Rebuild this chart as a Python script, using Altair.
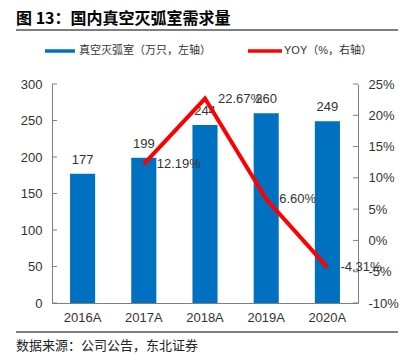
import altair as alt
import pandas as pd

years = ["2016A", "2017A", "2018A", "2019A", "2020A"]
demand = [177, 199, 244, 260, 249]
yoy = [None, 12.19, 22.67, 6.60, -4.31]
left_ticks = [0, 50, 100, 150, 200, 250, 300]
right_ticks = [-10, -5, 0, 5, 10, 15, 20, 25]

TITLE = "图 13：国内真空灭弧室需求量"
LEG_BAR = "真空灭弧室（万只，左轴）"
LEG_LINE = "YOY（%，右轴）"
SOURCE = "数据来源：公司公告，东北证券"

FONT = "Liberation Sans, Arial, Noto Sans CJK SC"
CJK = "Noto Sans CJK SC"
AXC = "#7f7f7f"
TXT = "#333333"

df = pd.DataFrame({"year": years, "demand": demand, "yoy": yoy})
df_line = df.dropna().copy()
df_line["label"] = [f"{v:.2f}%" for v in df_line["yoy"]]

LSCALE = alt.Scale(domain=[0, 300], nice=False)
RSCALE = alt.Scale(domain=[-10, 25], nice=False)

x = alt.X(
    "year:N", sort=years, title=None,
    scale=alt.Scale(paddingInner=0.59, paddingOuter=0.295),
    axis=alt.Axis(labelAngle=0, ticks=False, domainColor=AXC, labelPadding=8,
                  labelFontSize=13, labelColor=TXT, labelFont=FONT),
)

bars = alt.Chart(df).mark_bar(color="#0070C0").encode(
    x=x,
    y=alt.Y("demand:Q", scale=LSCALE,
            axis=alt.Axis(orient="left", values=left_ticks, title=None, ticks=False, grid=False,
                          domainColor=AXC, labelPadding=10, labelFontSize=13,
                          labelColor=TXT, labelFont=FONT)),
)
bar_text = alt.Chart(df).mark_text(baseline="bottom", dy=-7, fontSize=13, color=TXT, font=FONT).encode(
    x=x, y=alt.Y("demand:Q", scale=LSCALE, axis=None), text="demand:Q"
)
lt = alt.Chart(pd.DataFrame({"t": left_ticks})).mark_rule(color=AXC).encode(
    y=alt.Y("t:Q", scale=LSCALE, axis=None), x=alt.value(0), x2=alt.value(5)
)

line = alt.Chart(df_line).mark_line(color="#FF0000", strokeWidth=4).encode(
    x=x,
    y=alt.Y("yoy:Q", scale=RSCALE,
            axis=alt.Axis(orient="right", values=right_ticks, labelExpr="datum.value + '%'",
                          title=None, ticks=False, grid=False, domainColor=AXC,
                          labelPadding=10, labelFontSize=13, labelColor=TXT, labelFont=FONT)),
)
line_text = alt.Chart(df_line).mark_text(align="left", baseline="middle", dx=13, fontSize=13,
                                         color=TXT, font=FONT).encode(
    x=x, y=alt.Y("yoy:Q", scale=RSCALE, axis=None), text="label:N"
)
rt = alt.Chart(pd.DataFrame({"t": right_ticks})).mark_rule(color=AXC).encode(
    y=alt.Y("t:Q", scale=RSCALE, axis=None), x=alt.value(301), x2=alt.value(306)
)

deco = alt.Chart(pd.DataFrame({"d": [0]}))
title = deco.mark_text(text=TITLE, align="left", baseline="middle", fontSize=16,
                       fontWeight="bold", font=CJK, color="#000000").encode(
    x=alt.value(-36), y=alt.value(-65))
top_rule = deco.mark_rule(color="#555555", strokeWidth=1.5).encode(
    x=alt.value(-36), x2=alt.value(346), y=alt.value(-54))
bot_rule = deco.mark_rule(color="#555555", strokeWidth=1.5).encode(
    x=alt.value(-36), x2=alt.value(346), y=alt.value(248))
leg_b = deco.mark_rule(color="#0070C0", strokeWidth=3.5).encode(
    x=alt.value(-7), x2=alt.value(23), y=alt.value(-33))
leg_bt = deco.mark_text(text=LEG_BAR, align="left", baseline="middle", fontSize=11,
                        font=FONT, color=TXT).encode(x=alt.value(27), y=alt.value(-33))
leg_r = deco.mark_rule(color="#FF0000", strokeWidth=3.5).encode(
    x=alt.value(196), x2=alt.value(230), y=alt.value(-33))
leg_rt = deco.mark_text(text=LEG_LINE, align="left", baseline="middle", fontSize=11,
                        font=FONT, color=TXT).encode(x=alt.value(232), y=alt.value(-33))
source = deco.mark_text(text=SOURCE, align="left", baseline="middle", fontSize=13,
                        font=CJK, color="#222222").encode(x=alt.value(-36), y=alt.value(262))

chart = alt.layer(
    bars, bar_text, lt, line, line_text, rt,
    title, top_rule, bot_rule, leg_b, leg_bt, leg_r, leg_rt, source
).resolve_scale(
    y="independent"
).properties(
    width=306, height=219,
    padding={"left": 44, "top": 76, "right": 48, "bottom": 50},
    autosize=alt.AutoSizeParams(type="none"),
).configure_view(stroke=None)

chart.save("out.html", embed_options={"renderer": "svg", "actions": False})
